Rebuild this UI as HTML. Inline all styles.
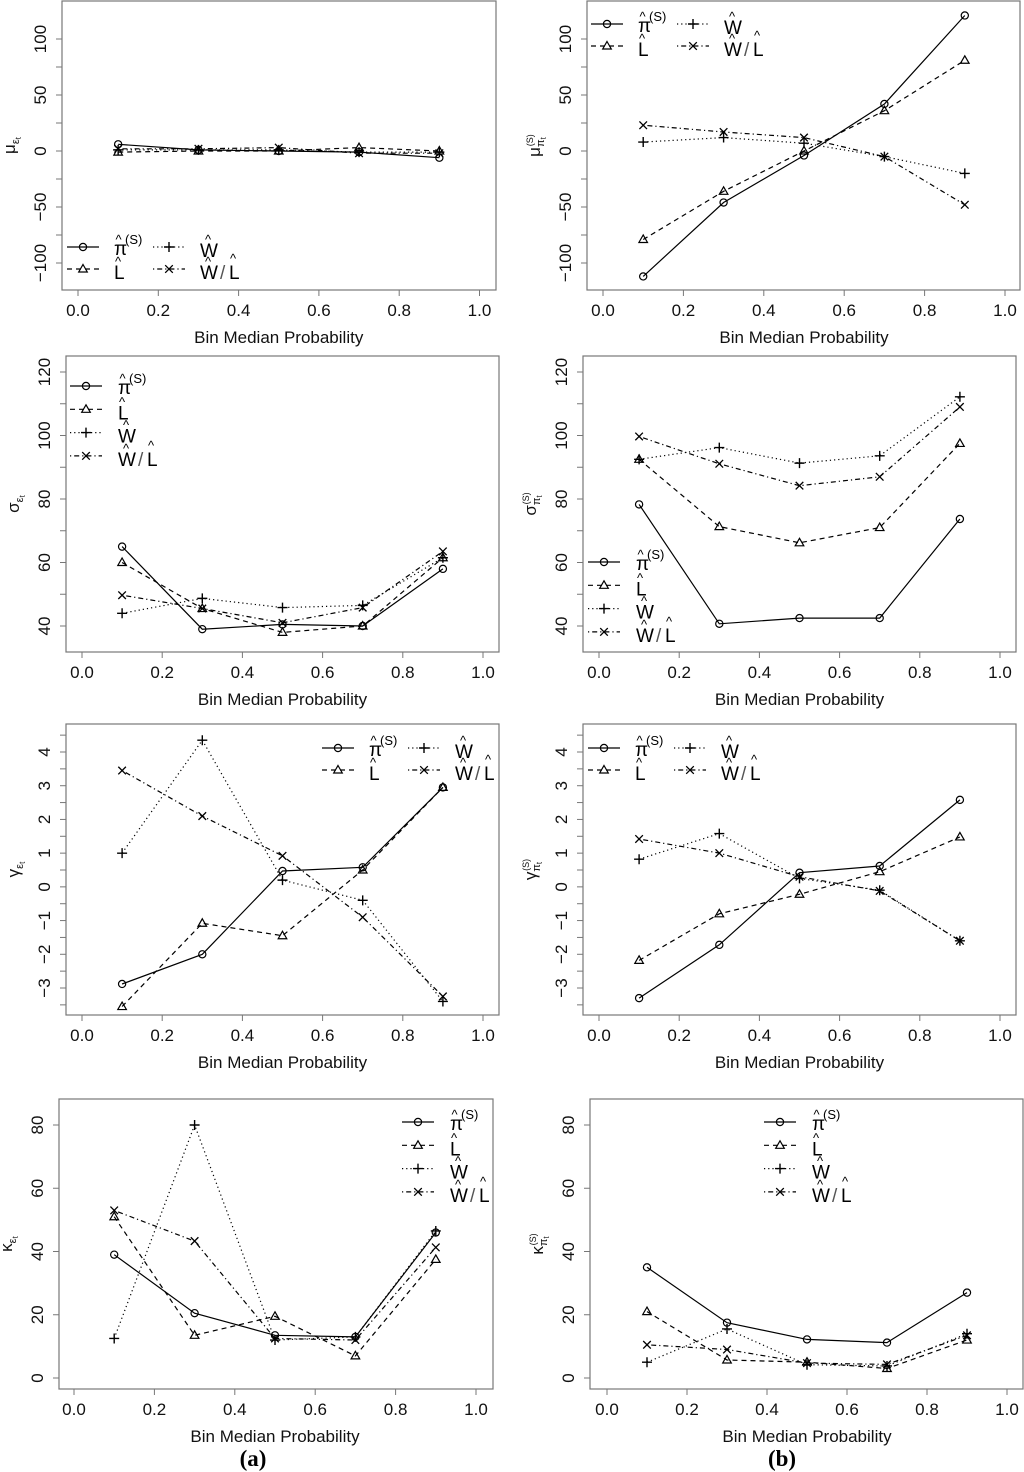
<!DOCTYPE html>
<html><head><meta charset="utf-8">
<style>
html,body{margin:0;padding:0;background:#fff;}
svg{display:block;font-family:"Liberation Sans",sans-serif;}
</style></head>
<body>
<svg id="fig" width="1024" height="1472" viewBox="0 0 1024 1472" xmlns="http://www.w3.org/2000/svg"></svg>
<script>
// ---- data ----
const xCats = [0.1, 0.3, 0.5, 0.7, 0.9];
const xTicks = [0, 0.2, 0.4, 0.6, 0.8, 1.0];
const xTickLabels = ["0.0","0.2","0.4","0.6","0.8","1.0"];
// panel 1: mu eps
const muEpsPi = [6, 1, 0, -1, -6];
const muEpsL  = [-1, 0, 0, 3, 0];
const muEpsW  = [1, 1, 1, -1, -1];
const muEpsWL = [2, 2, 3, -2, -2];
// panel 2: mu pi
const muPiPi = [-112, -46, -4, 42, 121];
const muPiL  = [-79, -36, 0, 36, 81];
const muPiW  = [8, 12, 7, -5, -20];
const muPiWL = [23, 17, 12, -5, -48];
// panel 3: sigma eps
const sdEpsPi = [65, 39, 40.5, 40, 58];
const sdEpsL  = [60, 45.5, 38, 40, 61.5];
const sdEpsW  = [44, 48.7, 45.8, 46.5, 61.5];
const sdEpsWL = [49.7, 45.5, 41, 45.8, 63.5];
// panel 4: sigma pi
const sdPiPi = [78.3, 40.7, 42.5, 42.5, 73.7];
const sdPiL  = [92.5, 71.3, 66.2, 71.0, 97.5];
const sdPiW  = [92.5, 96.2, 91.3, 93.6, 112.2];
const sdPiWL = [99.7, 91.1, 84.2, 87, 109];
// panel 5: gamma eps
const gEpsPi = [-2.88, -2.0, 0.47, 0.58, 2.95];
const gEpsL  = [-3.55, -1.08, -1.45, 0.5, 2.95];
const gEpsW  = [1.0, 4.35, 0.2, -0.4, -3.4];
const gEpsWL = [3.45, 2.1, 0.92, -0.9, -3.25];
// panel 6: gamma pi
const gPiPi = [-3.3, -1.72, 0.42, 0.62, 2.58];
const gPiL  = [-2.18, -0.8, -0.22, 0.45, 1.48];
const gPiW  = [0.82, 1.58, 0.25, -0.1, -1.6];
const gPiWL = [1.42, 1.0, 0.3, -0.12, -1.6];
// panel 7: kappa eps
const kEpsPi = [39, 20.5, 13.5, 13, 46];
const kEpsL  = [51, 13.5, 19.5, 7, 37.5];
const kEpsW  = [12.5, 80, 12, 13, 46.5];
const kEpsWL = [53, 43.3, 12.5, 12, 41.3];
// panel 8: kappa pi
const kPiPi = [35, 17.5, 12.2, 11.2, 27];
const kPiL  = [21, 5.7, 5, 3, 12];
const kPiW  = [5, 15.5, 4.2, 3.8, 14];
const kPiWL = [10.5, 9, 4.7, 4.3, 13.5];
// y ticks
const muTicks = [-100,-75,-50,-25,0,25,50,75,100];
const muTickLabels = [-100,-50,0,50,100];
const sdTicks = [40,50,60,70,80,90,100,110,120];
const sdTickLabels = [40,60,80,100,120];
const gTicks = [-3.5,-3,-2.5,-2,-1.5,-1,-0.5,0,0.5,1,1.5,2,2.5,3,3.5,4,4.5];
const gTickLabels = [-3,-2,-1,0,1,2,3,4];
const kTicks = [0,20,40,60,80];
const kTickLabels = [0,20,40,60,80];

const NS = "http://www.w3.org/2000/svg";
const svg = document.getElementById('fig');
function mk(tag, attrs, parent, text){
  const e = document.createElementNS(NS, tag);
  for (const k in attrs) e.setAttribute(k, attrs[k]);
  if (text !== undefined) e.textContent = text;
  (parent || svg).appendChild(e);
  return e;
}
const dashes = ["", "5,4", "1.2,3", "1.2,3,5,3"];
function marker(g, kind, x, y){
  let m;
  if (kind === 0) m = mk('circle', {cx:x, cy:y, r:3.6, fill:'none', stroke:'#000', 'stroke-width':1.2}, g);
  else if (kind === 1) m = mk('path', {d:`M${x},${y-4.5}L${x+4.3},${y+3}L${x-4.3},${y+3}Z`, fill:'none', stroke:'#000', 'stroke-width':1.2}, g);
  else if (kind === 2) m = mk('path', {d:`M${x-5},${y}H${x+5}M${x},${y-5}V${y+5}`, stroke:'#000', 'stroke-width':1.4}, g);
  else m = mk('path', {d:`M${x-3.8},${y-3.8}L${x+3.8},${y+3.8}M${x+3.8},${y-3.8}L${x-3.8},${y+3.8}`, stroke:'#000', 'stroke-width':1.3}, g);
  
  
}
function hatText(g, x, y, kind){
  const fs = 19;
  if (kind === 0){
    mk('text', {x:x, y:y+8, 'font-size':fs}, g, 'π');
    mk('text', {x:x+1.5, y:y-3, 'font-size':13}, g, '^');
    mk('text', {x:x+11, y:y-3, 'font-size':13}, g, '(S)');
  } else if (kind === 1){
    mk('text', {x:x, y:y+10, 'font-size':fs}, g, 'L');
    mk('text', {x:x+1, y:y-3, 'font-size':13}, g, '^');
  } else if (kind === 2){
    mk('text', {x:x, y:y+10, 'font-size':fs}, g, 'W');
    mk('text', {x:x+5, y:y-3, 'font-size':13}, g, '^');
  } else {
    mk('text', {x:x, y:y+10, 'font-size':fs}, g, 'W');
    mk('text', {x:x+5, y:y-3, 'font-size':13}, g, '^');
    mk('text', {x:x+20, y:y+10, 'font-size':fs, fill:'#555'}, g, '/');
    mk('text', {x:x+29, y:y+10, 'font-size':fs}, g, 'L');
    mk('text', {x:x+30, y:y-6, 'font-size':13}, g, '^');
  }
}
function axisTitle(g, x, y, sym, isPi){
  const t = mk('text', {transform:`translate(${x},${y}) rotate(-90)`, 'text-anchor':'middle', 'font-size':17, fill:'#111'}, g);
  mk('tspan', {}, t, sym);
  if (isPi){
    mk('tspan', {'font-size':11, dy:4}, t, 'π');
    mk('tspan', {'font-size':8, dy:2}, t, 't');
    mk('tspan', {'font-size':9, dy:-13, dx:-9}, t, '(S)');
  } else {
    mk('tspan', {'font-size':11, dy:4}, t, 'ε');
    mk('tspan', {'font-size':8, dy:2}, t, 't');
  }
  
  
}
const panels = [
  {name:'mu-eps', L:62,R:496,T:1,B:290,x0:78,x1:479.5,va:100,pa:39,vb:-100,pb:263, series:[muEpsPi,muEpsL,muEpsW,muEpsWL], ticks:muTicks, labels:muTickLabels, sym:'μ', pi:false, leg:{x:67,y:247,cols:2}},
  {name:'mu-pi', L:587,R:1020,T:1,B:290,x0:603,x1:1005,va:100,pa:39,vb:-100,pb:263, series:[muPiPi,muPiL,muPiW,muPiWL], ticks:muTicks, labels:muTickLabels, sym:'μ', pi:true, leg:{x:591,y:24,cols:2}},
  {name:'sigma-eps', L:66,R:499,T:356,B:652,x0:82,x1:483,va:120,pa:372,vb:40,pb:626, series:[sdEpsPi,sdEpsL,sdEpsW,sdEpsWL], ticks:sdTicks, labels:sdTickLabels, sym:'σ', pi:false, leg:{x:70,y:386,cols:1}},
  {name:'sigma-pi', L:583,R:1016,T:356,B:652,x0:599,x1:1000,va:120,pa:372,vb:40,pb:626, series:[sdPiPi,sdPiL,sdPiW,sdPiWL], ticks:sdTicks, labels:sdTickLabels, sym:'σ', pi:true, leg:{x:588,y:562,cols:1}},
  {name:'gamma-eps', L:66,R:499,T:724,B:1015,x0:82,x1:483,va:4,pa:752,vb:-3,pb:988, series:[gEpsPi,gEpsL,gEpsW,gEpsWL], ticks:gTicks, labels:gTickLabels, sym:'γ', pi:false, leg:{x:322,y:748,cols:2}},
  {name:'gamma-pi', L:583,R:1016,T:724,B:1015,x0:599,x1:1000,va:4,pa:752,vb:-3,pb:988, series:[gPiPi,gPiL,gPiW,gPiWL], ticks:gTicks, labels:gTickLabels, sym:'γ', pi:true, leg:{x:588,y:748,cols:2}},
  {name:'kappa-eps', L:59,R:493,T:1099,B:1389,x0:74,x1:476,va:80,pa:1125,vb:0,pb:1378, series:[kEpsPi,kEpsL,kEpsW,kEpsWL], ticks:kTicks, labels:kTickLabels, sym:'κ', pi:false, leg:{x:402,y:1122,cols:1}},
  {name:'kappa-pi', L:590,R:1023,T:1099,B:1389,x0:607,x1:1007,va:80,pa:1125,vb:0,pb:1378, series:[kPiPi,kPiL,kPiW,kPiWL], ticks:kTicks, labels:kTickLabels, sym:'κ', pi:true, leg:{x:764,y:1122,cols:1}},
];
const seriesNames = ['pi-hat-s','l-hat','w-hat','w-over-l-hat'];
panels.forEach(p => {
  const g = mk('g', {});
  
  
  const xs = v => p.x0 + v * (p.x1 - p.x0);
  const ys = v => p.pb + (v - p.vb) * (p.pa - p.pb) / (p.va - p.vb);
  const box = mk('rect', {x:p.L, y:p.T, width:p.R-p.L, height:p.B-p.T, fill:'none', stroke:'#777', 'stroke-width':1.2}, g);
  
  
  const xa = mk('g', {}, g);
  
  
  xTicks.forEach((t,i) => {
    mk('line', {x1:xs(t), x2:xs(t), y1:p.B, y2:p.B+6, stroke:'#777', 'stroke-width':1}, xa);
    mk('text', {x:xs(t), y:p.B+26, 'text-anchor':'middle', 'font-size':17, fill:'#111'}, xa, xTickLabels[i]);
  });
  const xt = mk('text', {x:(p.x0+p.x1)/2, y:p.B+53, 'text-anchor':'middle', 'font-size':17, fill:'#111'}, g, 'Bin Median Probability');
  
  
  const ya = mk('g', {}, g);
  
  
  p.ticks.forEach(t => {
    mk('line', {x1:p.L-6, x2:p.L, y1:ys(t), y2:ys(t), stroke:'#777', 'stroke-width':1}, ya);
  });
  p.labels.forEach(t => {
    const s = (t < 0 ? '−' + (-t) : '' + t);
    mk('text', {transform:`translate(${p.L-16},${ys(t)}) rotate(-90)`, 'text-anchor':'middle', 'font-size':17, fill:'#111'}, ya, s);
  });
  axisTitle(g, p.L - 47, (p.T + p.B) / 2, p.sym, p.pi);
  p.series.forEach((arr, si) => {
    const sg = mk('g', {}, g);
    
    
    const pts = arr.map((v,i) => xs(xCats[i]).toFixed(1) + ',' + ys(v).toFixed(1)).join(' ');
    const pl = mk('polyline', {points:pts, fill:'none', stroke:'#000', 'stroke-width':1.2, 'stroke-dasharray':dashes[si]}, sg);
    
    
    arr.forEach((v,i) => marker(sg, si, xs(xCats[i]), ys(v)));
  });
  const lg = mk('g', {}, g);
  
  
  for (let k = 0; k < 4; k++){
    let lx, ly;
    if (p.leg.cols === 2){ lx = p.leg.x + (k >= 2 ? 86 : 0); ly = p.leg.y + (k % 2) * 22; }
    else { lx = p.leg.x; ly = p.leg.y + k * 23.3; }
    const eg = mk('g', {}, lg);
    
    
    mk('line', {x1:lx, x2:lx+32, y1:ly, y2:ly, stroke:'#000', 'stroke-width':1.2, 'stroke-dasharray':dashes[k]}, eg);
    marker(eg, k, lx+16, ly);
    hatText(eg, lx + (p.leg.cols === 2 ? 47 : 48), ly, k);
  }
});
const pa = mk('text', {x:253, y:1466, 'text-anchor':'middle', 'font-size':23, 'font-weight':'bold', 'font-family':'Liberation Serif, serif'}, svg, '(a)');


const pb = mk('text', {x:782, y:1466, 'text-anchor':'middle', 'font-size':23, 'font-weight':'bold', 'font-family':'Liberation Serif, serif'}, svg, '(b)');


</script>
</body></html>
